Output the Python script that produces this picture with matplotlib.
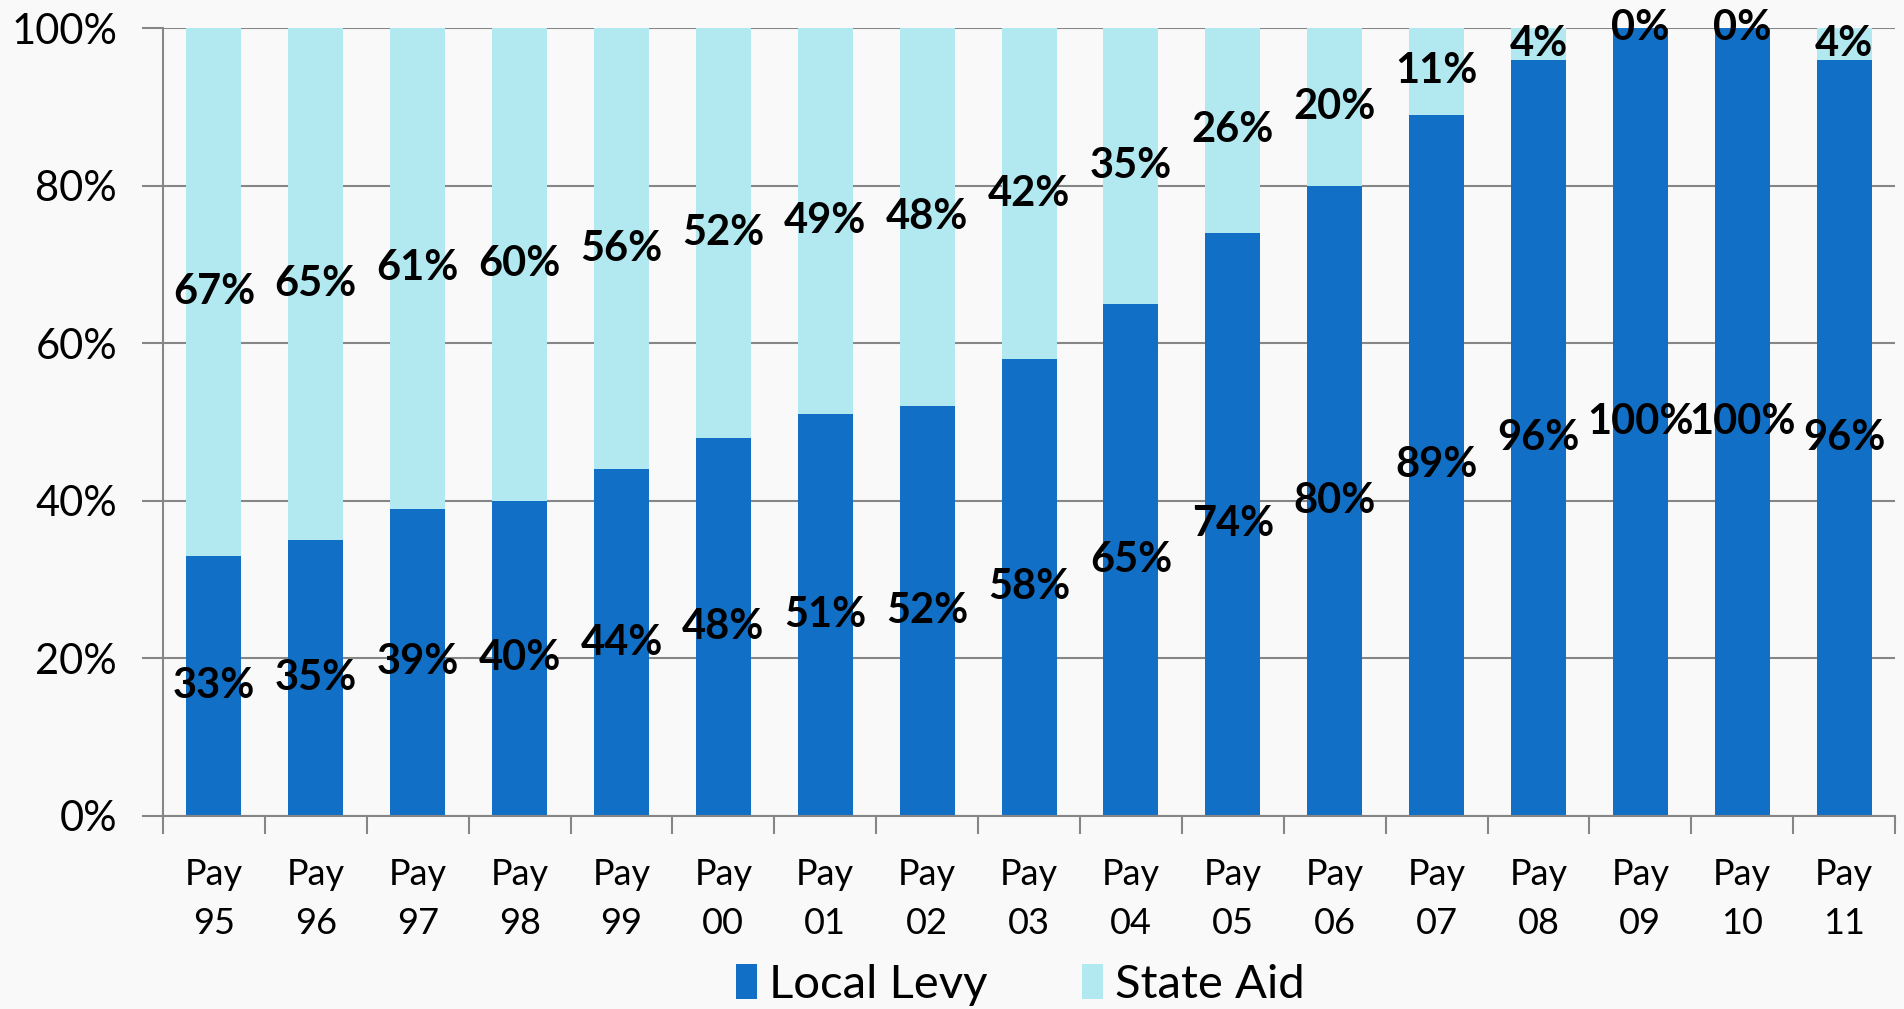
import numpy as np
import matplotlib.pyplot as plt
from matplotlib.ticker import FuncFormatter, FixedLocator

plt.rcParams['font.family'] = ['Lato', 'DejaVu Sans']

# Datos
periodos = ["Pay\n95", "Pay\n96", "Pay\n97", "Pay\n98", "Pay\n99", "Pay\n00",
            "Pay\n01", "Pay\n02", "Pay\n03", "Pay\n04", "Pay\n05", "Pay\n06",
            "Pay\n07", "Pay\n08", "Pay\n09", "Pay\n10", "Pay\n11"]
local_levy = [33, 35, 39, 40, 44, 48, 51, 52, 58, 65, 74, 80, 89, 96, 100, 100, 96]
state_aid = [67, 65, 61, 60, 56, 52, 49, 48, 42, 35, 26, 20, 11, 4, 0, 0, 4]

azul = "#116FC5"
celeste = "#B2E9F1"
gris = "#868686"
fondo = "#F9F9F9"

fig = plt.figure(figsize=(19.04, 10.09), dpi=100, facecolor=fondo)
ax = fig.add_axes([0.0856, 0.1913, 0.9097, 0.7809])
ax.set_facecolor(fondo)

x = np.arange(len(periodos))
b1 = ax.bar(x, local_levy, width=0.54, color=azul, label="Local Levy", zorder=2)
b2 = ax.bar(x, state_aid, width=0.54, bottom=local_levy, color=celeste,
            label="State Aid", zorder=2)

# Etiquetas en el centro de cada segmento
for i in range(len(x)):
    ax.text(x[i], local_levy[i] / 2, f"{local_levy[i]}%", ha="center", va="center",
            fontsize=30, fontweight="bold", zorder=3)
    ax.text(x[i], local_levy[i] + state_aid[i] / 2, f"{state_aid[i]}%", ha="center",
            va="center", fontsize=30, fontweight="bold", zorder=3)

ax.set_xlim(-0.5, len(x) - 0.5)
ax.set_ylim(0, 100)
ax.set_yticks(np.arange(0, 101, 20))
ax.yaxis.set_major_formatter(FuncFormatter(lambda v, p: f"{v:.0f}%"))
ax.grid(axis="y", color=gris, linewidth=1.5, zorder=1)

ax.set_xticks(x)
ax.set_xticklabels(periodos, fontsize=26, linespacing=1.6)
ax.xaxis.set_minor_locator(FixedLocator(np.arange(-0.5, len(x), 1)))
ax.tick_params(axis="x", which="major", length=0, pad=30)
ax.tick_params(axis="x", which="minor", length=13, width=1.5, color=gris)
ax.tick_params(axis="y", length=15, width=1.5, color=gris, labelsize=30, pad=18)

for lado in ["top", "right"]:
    ax.spines[lado].set_visible(False)
for lado in ["left", "bottom"]:
    ax.spines[lado].set_color(gris)
    ax.spines[lado].set_linewidth(1.5)

fig.legend(handles=[b1, b2], loc="center", bbox_to_anchor=(0.536, 0.024), ncol=2,
           frameon=False, fontsize=34, handlelength=0.45, handleheight=0.75,
           handletextpad=0.25, columnspacing=2.0)

fig.savefig("out.png", dpi=100, facecolor=fondo)
